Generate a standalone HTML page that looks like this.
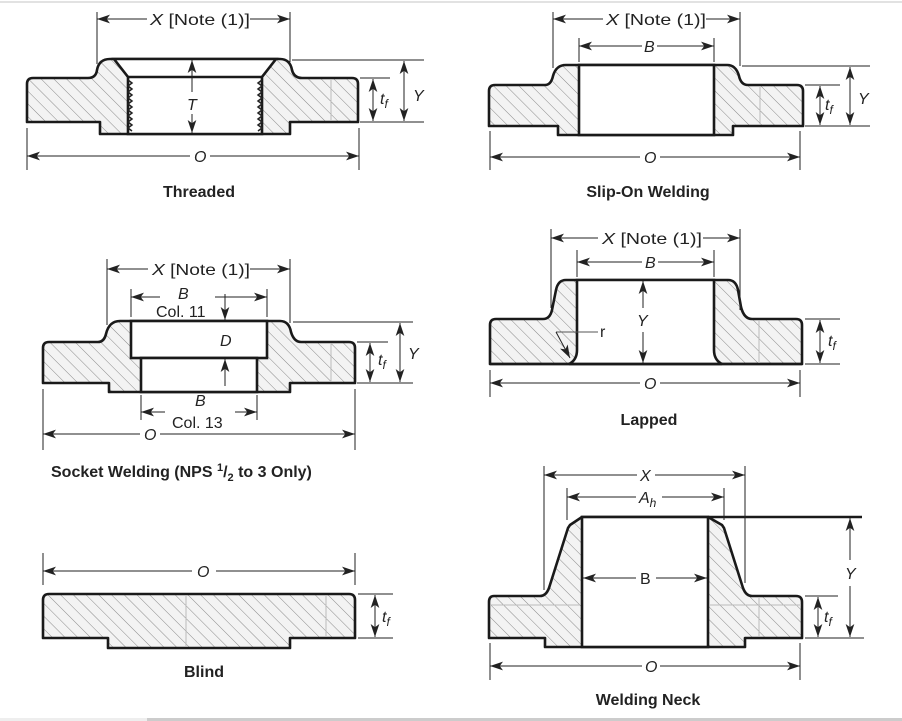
<!DOCTYPE html>
<html><head><meta charset="utf-8"><style>
html,body{margin:0;padding:0;background:#fff;}
svg{display:block;}
text{font-family:"Liberation Sans",Arial,sans-serif;fill:#222;}
.d{font-size:16px;font-style:italic;}
.n{font-size:16px;}
.t{font-size:16px;font-weight:bold;}
.o{fill:url(#h);stroke:#1a1a1a;stroke-width:2.6;stroke-linejoin:round;}
.b{fill:#fff;stroke:#1a1a1a;stroke-width:2.6;}
.l{stroke:#222;stroke-width:1;fill:none;}
.g{stroke:#bbb;stroke-width:1;}
</style></head><body>
<svg width="902" height="721" viewBox="0 0 902 721" xmlns="http://www.w3.org/2000/svg">
<defs>
<pattern id="h" patternUnits="userSpaceOnUse" width="9" height="9" patternTransform="rotate(-45)">
<rect width="9" height="9" fill="#f3f3f3"/><line x1="0" y1="0" x2="0" y2="9" stroke="#8a8a8a" stroke-width="1"/>
</pattern>
<marker id="a" viewBox="0 0 12 8" refX="12" refY="4" markerWidth="13" markerHeight="9" orient="auto-start-reverse" markerUnits="userSpaceOnUse">
<path d="M0,0 L12,4 L0,8 L3,4 Z" fill="#222"/></marker>
</defs>
<rect x="0" y="1" width="902" height="2" fill="#e2e2e2"/>
<rect x="0" y="718" width="147" height="3" fill="#eee"/>
<rect x="147" y="718" width="755" height="3" fill="#ccc"/>

<!-- THREADED -->
<path class="o" d="M33,78 H88 Q96,78 97,70 Q99,59 110,59 H280 Q290,59 292,70 Q294,78 302,78 H352 Q358,78 358,84 V122 H290 V134 H100 V122 H27 V84 Q27,78 33,78 Z"/>
<path class="b" d="M114,59 H276 L262,77 V134 H128 V77 Z"/>
<line class="b" x1="128" y1="77" x2="262" y2="77"/>
<path d="M128,80 l4,3 l-4,3 l4,3 l-4,3 l4,3 l-4,3 l4,3 l-4,3 l4,3 l-4,3 l4,3 l-4,3 l4,3 l-4,3 l4,3 l-4,3 l4,3" fill="none" stroke="#222" stroke-width="1.5"/>
<path d="M262,80 l-4,3 l4,3 l-4,3 l4,3 l-4,3 l4,3 l-4,3 l4,3 l-4,3 l4,3 l-4,3 l4,3 l-4,3 l4,3 l-4,3 l4,3 l-4,3" fill="none" stroke="#222" stroke-width="1.5"/>
<line class="g" x1="331" y1="79" x2="331" y2="121"/>
<line class="l" x1="97" y1="12" x2="97" y2="64"/><line class="l" x1="290" y1="12" x2="290" y2="62"/>
<line class="l" x1="97" y1="19" x2="147" y2="19" marker-start="url(#a)"/><line class="l" x1="250" y1="19" x2="290" y2="19" marker-end="url(#a)"/>
<text class="n" x="150" y="25" textLength="100" lengthAdjust="spacingAndGlyphs"><tspan font-style="italic">X</tspan> [Note  (1)]</text>
<line class="l" x1="192" y1="92" x2="192" y2="60" marker-end="url(#a)"/><line class="l" x1="192" y1="114" x2="192" y2="133" marker-end="url(#a)"/>
<text class="d" x="187" y="110">T</text>
<line class="l" x1="292" y1="60" x2="424" y2="60"/><line class="l" x1="360" y1="78" x2="390" y2="78"/><line class="l" x1="360" y1="122" x2="424" y2="122"/>
<line class="l" x1="373" y1="100" x2="373" y2="79" marker-end="url(#a)"/><line class="l" x1="373" y1="100" x2="373" y2="121" marker-end="url(#a)"/>
<line class="l" x1="404" y1="91" x2="404" y2="61" marker-end="url(#a)"/><line class="l" x1="404" y1="91" x2="404" y2="121" marker-end="url(#a)"/>
<text class="d" x="380" y="104">t<tspan font-size="12" dy="4">f</tspan></text>
<text class="d" x="413" y="101">Y</text>
<line class="l" x1="27" y1="128" x2="27" y2="170"/><line class="l" x1="359" y1="128" x2="359" y2="170"/>
<line class="l" x1="27" y1="156" x2="190" y2="156" marker-start="url(#a)"/><line class="l" x1="210" y1="156" x2="359" y2="156" marker-end="url(#a)"/>
<text class="d" x="194" y="162">O</text>
<text class="t" x="199" y="197" text-anchor="middle">Threaded</text>

<!-- SLIP-ON -->
<path class="o" d="M495,85 H545 Q551,85 553,76 Q556,65 566,65 H727 Q736,65 739,76 Q741,85 748,85 H797 Q803,85 803,91 V126 H733 V135 H558 V126 H489 V91 Q489,85 495,85 Z"/>
<rect class="b" x="579" y="65" width="135" height="70"/>
<line class="g" x1="760" y1="86" x2="760" y2="125"/>
<line class="l" x1="553" y1="12" x2="553" y2="68"/><line class="l" x1="740" y1="12" x2="740" y2="66"/>
<line class="l" x1="553" y1="19" x2="603" y2="19" marker-start="url(#a)"/><line class="l" x1="706" y1="19" x2="740" y2="19" marker-end="url(#a)"/>
<text class="n" x="606" y="25" textLength="100" lengthAdjust="spacingAndGlyphs"><tspan font-style="italic">X</tspan> [Note  (1)]</text>
<line class="l" x1="579" y1="38" x2="579" y2="62"/><line class="l" x1="714" y1="38" x2="714" y2="62"/>
<line class="l" x1="579" y1="46" x2="642" y2="46" marker-start="url(#a)"/><line class="l" x1="657" y1="46" x2="714" y2="46" marker-end="url(#a)"/>
<text class="d" x="644" y="52">B</text>
<line class="l" x1="742" y1="66" x2="870" y2="66"/><line class="l" x1="805" y1="85" x2="840" y2="85"/><line class="l" x1="805" y1="126" x2="870" y2="126"/>
<line class="l" x1="820" y1="106" x2="820" y2="86" marker-end="url(#a)"/><line class="l" x1="820" y1="106" x2="820" y2="125" marker-end="url(#a)"/>
<line class="l" x1="850" y1="96" x2="850" y2="67" marker-end="url(#a)"/><line class="l" x1="850" y1="96" x2="850" y2="125" marker-end="url(#a)"/>
<text class="d" x="825" y="110">t<tspan font-size="12" dy="4">f</tspan></text>
<text class="d" x="858" y="104">Y</text>
<line class="l" x1="490" y1="131" x2="490" y2="170"/><line class="l" x1="800" y1="131" x2="800" y2="170"/>
<line class="l" x1="490" y1="157" x2="640" y2="157" marker-start="url(#a)"/><line class="l" x1="660" y1="157" x2="800" y2="157" marker-end="url(#a)"/>
<text class="d" x="644" y="163">O</text>
<text class="t" x="648" y="197" text-anchor="middle">Slip-On Welding</text>

<!-- SOCKET -->
<path class="o" d="M49,342 H98 Q104,342 106,334 Q109,321 120,321 H280 Q289,321 291,332 Q294,342 301,342 H349 Q355,342 355,348 V383 H290 V392 H109 V383 H43 V348 Q43,342 49,342 Z"/>
<rect class="b" x="131" y="321" width="136" height="37"/>
<rect class="b" x="141" y="358" width="116" height="34"/>
<line class="g" x1="331" y1="343" x2="331" y2="382"/>
<line class="l" x1="107" y1="259" x2="107" y2="325"/><line class="l" x1="290" y1="259" x2="290" y2="323"/>
<line class="l" x1="107" y1="269" x2="148" y2="269" marker-start="url(#a)"/><line class="l" x1="250" y1="269" x2="290" y2="269" marker-end="url(#a)"/>
<text class="n" x="152" y="275" textLength="98" lengthAdjust="spacingAndGlyphs"><tspan font-style="italic">X</tspan> [Note  (1)]</text>
<line class="l" x1="131" y1="289" x2="131" y2="317"/><line class="l" x1="267" y1="289" x2="267" y2="317"/>
<line class="l" x1="131" y1="297" x2="160" y2="297" marker-start="url(#a)"/><line class="l" x1="215" y1="297" x2="267" y2="297" marker-end="url(#a)"/>
<text class="d" x="178" y="299">B</text>
<text class="n" x="156" y="317">Col. 11</text>
<line class="l" x1="225" y1="294" x2="225" y2="320" marker-end="url(#a)"/>
<text class="d" x="220" y="346">D</text>
<line class="l" x1="225" y1="386" x2="225" y2="359" marker-end="url(#a)"/>
<line class="l" x1="141" y1="395" x2="141" y2="420"/><line class="l" x1="257" y1="395" x2="257" y2="420"/>
<line class="l" x1="141" y1="412" x2="165" y2="412" marker-start="url(#a)"/><line class="l" x1="235" y1="412" x2="257" y2="412" marker-end="url(#a)"/>
<text class="d" x="195" y="406">B</text>
<text class="n" x="172" y="428">Col. 13</text>
<line class="l" x1="293" y1="322" x2="413" y2="322"/><line class="l" x1="357" y1="342" x2="388" y2="342"/><line class="l" x1="357" y1="383" x2="413" y2="383"/>
<line class="l" x1="370" y1="362" x2="370" y2="343" marker-end="url(#a)"/><line class="l" x1="370" y1="362" x2="370" y2="382" marker-end="url(#a)"/>
<line class="l" x1="400" y1="352" x2="400" y2="323" marker-end="url(#a)"/><line class="l" x1="400" y1="352" x2="400" y2="382" marker-end="url(#a)"/>
<text class="d" x="378" y="365">t<tspan font-size="12" dy="4">f</tspan></text>
<text class="d" x="408" y="359">Y</text>
<line class="l" x1="43" y1="389" x2="43" y2="450"/><line class="l" x1="355" y1="389" x2="355" y2="450"/>
<line class="l" x1="43" y1="434" x2="140" y2="434" marker-start="url(#a)"/><line class="l" x1="160" y1="434" x2="355" y2="434" marker-end="url(#a)"/>
<text class="d" x="144" y="440">O</text>
<text class="t" x="51" y="477">Socket Welding (NPS <tspan font-size="11" dy="-6">1</tspan><tspan dy="6">/</tspan><tspan font-size="11" dy="4">2</tspan><tspan dy="-4"> to 3 Only)</tspan></text>

<!-- LAPPED -->
<path class="o" d="M496,319 H543 Q550,319 552,310 L556,290 Q558,280 566,280 H728 Q736,280 738,290 L741,307 Q744,319 752,319 H796 Q802,319 802,325 V364 H490 V325 Q490,319 496,319 Z"/>
<path class="b" d="M577,280 H714 V350 Q714,360 722,364 H569 Q577,360 577,350 Z"/>
<line x1="490" y1="364" x2="802" y2="364" stroke="#1a1a1a" stroke-width="2.6"/>
<line class="g" x1="759" y1="320" x2="759" y2="363"/>
<line class="l" x1="551" y1="229" x2="551" y2="308"/><line class="l" x1="740" y1="229" x2="740" y2="310"/>
<line class="l" x1="551" y1="238" x2="598" y2="238" marker-start="url(#a)"/><line class="l" x1="703" y1="238" x2="740" y2="238" marker-end="url(#a)"/>
<text class="n" x="602" y="244" textLength="100" lengthAdjust="spacingAndGlyphs"><tspan font-style="italic">X</tspan> [Note  (1)]</text>
<line class="l" x1="577" y1="250" x2="577" y2="277"/><line class="l" x1="714" y1="250" x2="714" y2="277"/>
<line class="l" x1="577" y1="262" x2="642" y2="262" marker-start="url(#a)"/><line class="l" x1="658" y1="262" x2="714" y2="262" marker-end="url(#a)"/>
<text class="d" x="645" y="268">B</text>
<line class="l" x1="643" y1="308" x2="643" y2="281" marker-end="url(#a)"/><line class="l" x1="643" y1="332" x2="643" y2="363" marker-end="url(#a)"/>
<text class="d" x="637" y="326">Y</text>
<line x1="556" y1="332" x2="598" y2="332" stroke="#555" stroke-width="1"/>
<line class="l" x1="556" y1="332" x2="570" y2="358" marker-end="url(#a)"/>
<text class="n" x="600" y="337">r</text>
<line class="l" x1="805" y1="319" x2="840" y2="319"/><line class="l" x1="805" y1="364" x2="840" y2="364"/>
<line class="l" x1="820" y1="341" x2="820" y2="320" marker-end="url(#a)"/><line class="l" x1="820" y1="341" x2="820" y2="363" marker-end="url(#a)"/>
<text class="d" x="828" y="346">t<tspan font-size="12" dy="4">f</tspan></text>
<line class="l" x1="490" y1="370" x2="490" y2="397"/><line class="l" x1="800" y1="370" x2="800" y2="397"/>
<line class="l" x1="490" y1="383" x2="640" y2="383" marker-start="url(#a)"/><line class="l" x1="660" y1="383" x2="800" y2="383" marker-end="url(#a)"/>
<text class="d" x="644" y="389">O</text>
<text class="t" x="649" y="425" text-anchor="middle">Lapped</text>

<!-- BLIND -->
<path class="o" d="M49,594 H349 Q355,594 355,600 V638 H290 V648 H108 V638 H43 V600 Q43,594 49,594 Z"/>
<line class="g" x1="186" y1="595" x2="186" y2="647"/><line class="g" x1="326" y1="595" x2="326" y2="637"/>
<line class="l" x1="43" y1="553" x2="43" y2="585"/><line class="l" x1="355" y1="553" x2="355" y2="585"/>
<line class="l" x1="43" y1="571" x2="192" y2="571" marker-start="url(#a)"/><line class="l" x1="216" y1="571" x2="355" y2="571" marker-end="url(#a)"/>
<text class="d" x="197" y="577">O</text>
<line class="l" x1="358" y1="594" x2="393" y2="594"/><line class="l" x1="358" y1="638" x2="393" y2="638"/>
<line class="l" x1="375" y1="616" x2="375" y2="595" marker-end="url(#a)"/><line class="l" x1="375" y1="616" x2="375" y2="637" marker-end="url(#a)"/>
<text class="d" x="382" y="622">t<tspan font-size="12" dy="4">f</tspan></text>
<text class="t" x="204" y="677" text-anchor="middle">Blind</text>

<!-- WELDING NECK -->
<path class="o" d="M494,596 H540 Q546,596 549,588 L568,528 L570,525 L582,517 H708 L722,525 L724,528 L743,588 Q746,596 752,596 H796 Q802,596 802,602 V638 H745 V647 H545 V638 H489 V602 Q489,596 494,596 Z"/>
<rect class="b" x="582" y="517" width="126" height="130"/>
<line class="g" x1="490" y1="605" x2="580" y2="605"/><line class="g" x1="710" y1="605" x2="801" y2="605"/><line class="g" x1="759" y1="597" x2="759" y2="637"/>
<line x1="708" y1="517" x2="862" y2="517" stroke="#1a1a1a" stroke-width="2.6"/>
<line class="l" x1="544" y1="466" x2="544" y2="590"/><line class="l" x1="745" y1="466" x2="745" y2="583"/>
<line class="l" x1="544" y1="475" x2="637" y2="475" marker-start="url(#a)"/><line class="l" x1="655" y1="475" x2="745" y2="475" marker-end="url(#a)"/>
<text class="d" x="640" y="481">X</text>
<line class="l" x1="567" y1="488" x2="567" y2="520"/><line class="l" x1="724" y1="488" x2="724" y2="520"/>
<line class="l" x1="567" y1="497" x2="636" y2="497" marker-start="url(#a)"/><line class="l" x1="662" y1="497" x2="724" y2="497" marker-end="url(#a)"/>
<text class="d" x="639" y="503">A<tspan font-size="12" dy="4">h</tspan></text>
<line class="l" x1="583" y1="578" x2="636" y2="578" marker-start="url(#a)"/><line class="l" x1="656" y1="578" x2="707" y2="578" marker-end="url(#a)"/>
<text class="n" x="640" y="584">B</text>
<line class="l" x1="805" y1="596" x2="838" y2="596"/><line class="l" x1="805" y1="638" x2="864" y2="638"/>
<line class="l" x1="818" y1="617" x2="818" y2="597" marker-end="url(#a)"/><line class="l" x1="818" y1="617" x2="818" y2="637" marker-end="url(#a)"/>
<line class="l" x1="850" y1="560" x2="850" y2="518" marker-end="url(#a)"/><line class="l" x1="850" y1="586" x2="850" y2="637" marker-end="url(#a)"/>
<text class="d" x="824" y="622">t<tspan font-size="12" dy="4">f</tspan></text>
<text class="d" x="845" y="579">Y</text>
<line class="l" x1="490" y1="643" x2="490" y2="680"/><line class="l" x1="800" y1="643" x2="800" y2="680"/>
<line class="l" x1="490" y1="666" x2="642" y2="666" marker-start="url(#a)"/><line class="l" x1="660" y1="666" x2="800" y2="666" marker-end="url(#a)"/>
<text class="d" x="645" y="672">O</text>
<text class="t" x="648" y="705" text-anchor="middle">Welding Neck</text>
</svg>
</body></html>
